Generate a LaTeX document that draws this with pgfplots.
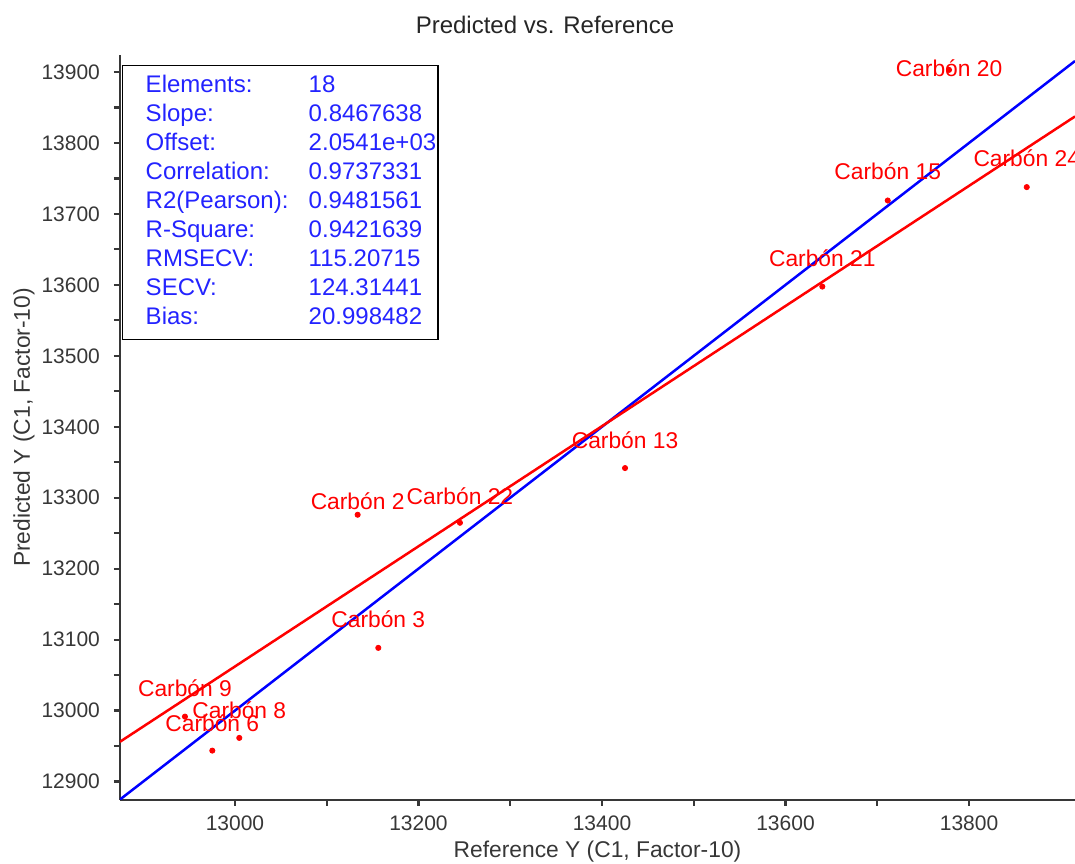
\documentclass[border=0pt]{standalone}
\usepackage{pgfplots}
\pgfplotsset{compat=1.18}
\usepackage{pgfplotstable}
\usepackage{fontspec}
\setmainfont{Liberation Sans}

\definecolor{statblue}{RGB}{35,35,255}
\definecolor{axisgray}{RGB}{55,55,55}
\definecolor{fitred}{RGB}{255,0,0}
\definecolor{idealblue}{RGB}{0,0,255}

% Reference vs. predicted values, with the vertical offset (pt) of each sample label
\pgfplotstableread[col sep=comma]{
x,y,dy,label
12945.5,12991.5,14,Carbón 9
12975.3,12943.6,13.5,Carbón 6
13004.7,12961.5,14,Carbón 8
13156.2,13088.4,14.5,Carbón 3
13133.7,13276.0,7,Carbón 2
13245.2,13264.7,13.5,Carbón 22
13425.1,13341.8,14,Carbón 13
13640.1,13597.6,14.3,Carbón 21
13711.4,13718.9,14.5,Carbón 15
13862.9,13737.8,14.6,Carbón 24
13778.2,13903.0,1,Carbón 20
}\carbon

\begin{document}
\begin{tikzpicture}
\begin{axis}[
  scale only axis,
  width=477.5pt, height=372.5pt,
  xmin=12874.7, xmax=13915.5,
  ymin=12874, ymax=13924,
  axis x line=bottom, axis y line=left,
  axis line style={-, line width=1.3pt, axisgray},
  xtick={13000,13200,13400,13600,13800},
  ytick={12900,13000,13100,13200,13300,13400,13500,13600,13700,13800,13900},
  minor x tick num=1, minor y tick num=1,
  tick align=outside,
  major tick length=3pt, minor tick length=3pt,
  every tick/.style={axisgray, line width=1.1pt},
  scaled ticks=false,
  /pgf/number format/.cd, 1000 sep={}, assume math mode=true,
  /pgfplots/.cd,
  ticklabel style={font=\fontsize{10.5}{12}\selectfont, text=axisgray},
  xticklabel style={yshift=-1.5pt},
  yticklabel style={xshift=-3.5pt},
  xlabel={Reference Y (C1, Factor-10)},
  ylabel={Predicted Y (C1, Factor-10)},
  label style={font=\fontsize{11.4}{13}\selectfont, text=axisgray},
  x label style={at={(axis description cs:0.5,-0.0698)}, anchor=center},
  y label style={at={(axis description cs:-0.1005,0.5)}, anchor=center},
  title={Predicted vs. Reference},
  title style={at={(axis description cs:0.445,1.0242)}, anchor=center, yshift=0pt,
    font=\fontsize{12}{14}\selectfont, text=black!85},
  clip=true,
]
% ideal line y = x
\addplot[idealblue, line width=1.25pt] coordinates {(12874.7,12874.7) (13915.5,13915.5)};
% fitted line: slope 0.8467638, offset 2054.1
\addplot[fitred, line width=1.25pt] coordinates {(12874.7,12956.08) (13915.5,13837.37)};
% samples
\addplot[only marks, mark=*, mark size=1.3pt, fitred,
  point meta=explicit symbolic,
  visualization depends on={\thisrow{dy}\as\dy},
  nodes near coords,
  every node near coord/.style={anchor=center, yshift=\dy*1pt, text=fitred,
    font=\fontsize{11.4}{13}\selectfont, inner sep=0pt},
] table[x=x, y=y, meta=label] {\carbon};

\coordinate (sw) at (rel axis cs:0,0);
\coordinate (ne) at (rel axis cs:1,1);
\node[draw=black, line width=0.75pt, inner xsep=0pt, inner ysep=3.15pt,
  anchor=north west, text=statblue, fill=white]
  at ([xshift=1pt,yshift=-5pt]rel axis cs:0,1) {%
  \fontsize{12}{14.5}\selectfont
  \begin{tabular}{@{\hspace{11.5pt}}p{81.5pt}@{}p{64.5pt}@{}}
  Elements: & 18\\
  Slope: & 0.8467638\\
  Offset: & 2.0541e+03\\
  Correlation: & 0.9737331\\
  R2(Pearson): & 0.9481561\\
  R-Square: & 0.9421639\\
  RMSECV: & 115.20715\\
  SECV: & 124.31441\\
  Bias: & 20.998482
  \end{tabular}};
\end{axis}
\pgfresetboundingbox
\path ([xshift=-60pt,yshift=-32pt]sw) rectangle ([yshift=27.5pt]ne);
\end{tikzpicture}
\end{document}
